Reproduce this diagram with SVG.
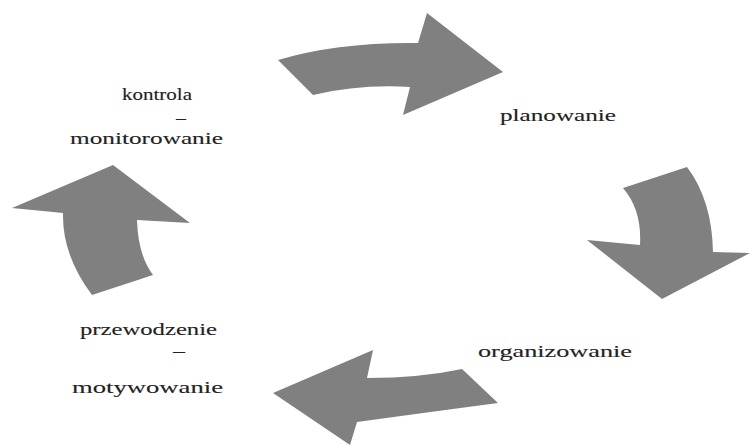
<svg xmlns="http://www.w3.org/2000/svg" width="752" height="446" viewBox="0 0 752 446">
  <style>
    .arrow { fill: #808080; stroke: none; }
    .lbl { font-family: "Liberation Serif", "DejaVu Serif", serif; font-size: 16px; fill: #222222; stroke: #222222; stroke-width: 0.12; }
    .dash { font-family: "Liberation Serif", serif; font-size: 18px; fill: #222222; }
  </style>
  <rect x="0" y="0" width="752" height="446" fill="#ffffff"/>
  <g id="connectors">
    <path class="arrow" d="M 278 60 Q 338 42 418 43 L 427 13 L 503 72 L 403 115 L 410 87 Q 360 84 313 95 Z"/>
    <path class="arrow" d="M 623 188 L 687 167 Q 712 200 713 252 L 750 253 L 662 299 L 587 240 L 640 245 Q 642 210 623 188 Z"/>
    <path class="arrow" d="M 273 393 L 373 350 L 367 378 Q 420 378 462 369 L 498 403 Q 430 412 357 422 L 350 445 Z"/>
    <path class="arrow" d="M 12 208 L 113 165 L 190 223 L 137 220 Q 138 255 153 275 L 92 295 Q 62 255 63 213 Z"/>
  </g>
  <g id="planowanie">
    <text class="lbl" x="500" y="121" textLength="116" lengthAdjust="spacingAndGlyphs">planowanie</text>
  </g>
  <g id="organizowanie">
    <text class="lbl" x="478" y="357" textLength="154" lengthAdjust="spacingAndGlyphs">organizowanie</text>
  </g>
  <g id="przewodzenie">
    <text class="lbl" x="80" y="335" textLength="137" lengthAdjust="spacingAndGlyphs">przewodzenie</text>
    <text class="dash" x="173" y="357" textLength="12" lengthAdjust="spacingAndGlyphs">–</text>
    <text class="lbl" x="72" y="393" textLength="151" lengthAdjust="spacingAndGlyphs">motywowanie</text>
  </g>
  <g id="kontrola">
    <text class="lbl" x="122" y="100" textLength="70" lengthAdjust="spacingAndGlyphs">kontrola</text>
    <text class="dash" x="176" y="124" textLength="10" lengthAdjust="spacingAndGlyphs">–</text>
    <text class="lbl" x="70" y="144" textLength="153" lengthAdjust="spacingAndGlyphs">monitorowanie</text>
  </g>
</svg>
